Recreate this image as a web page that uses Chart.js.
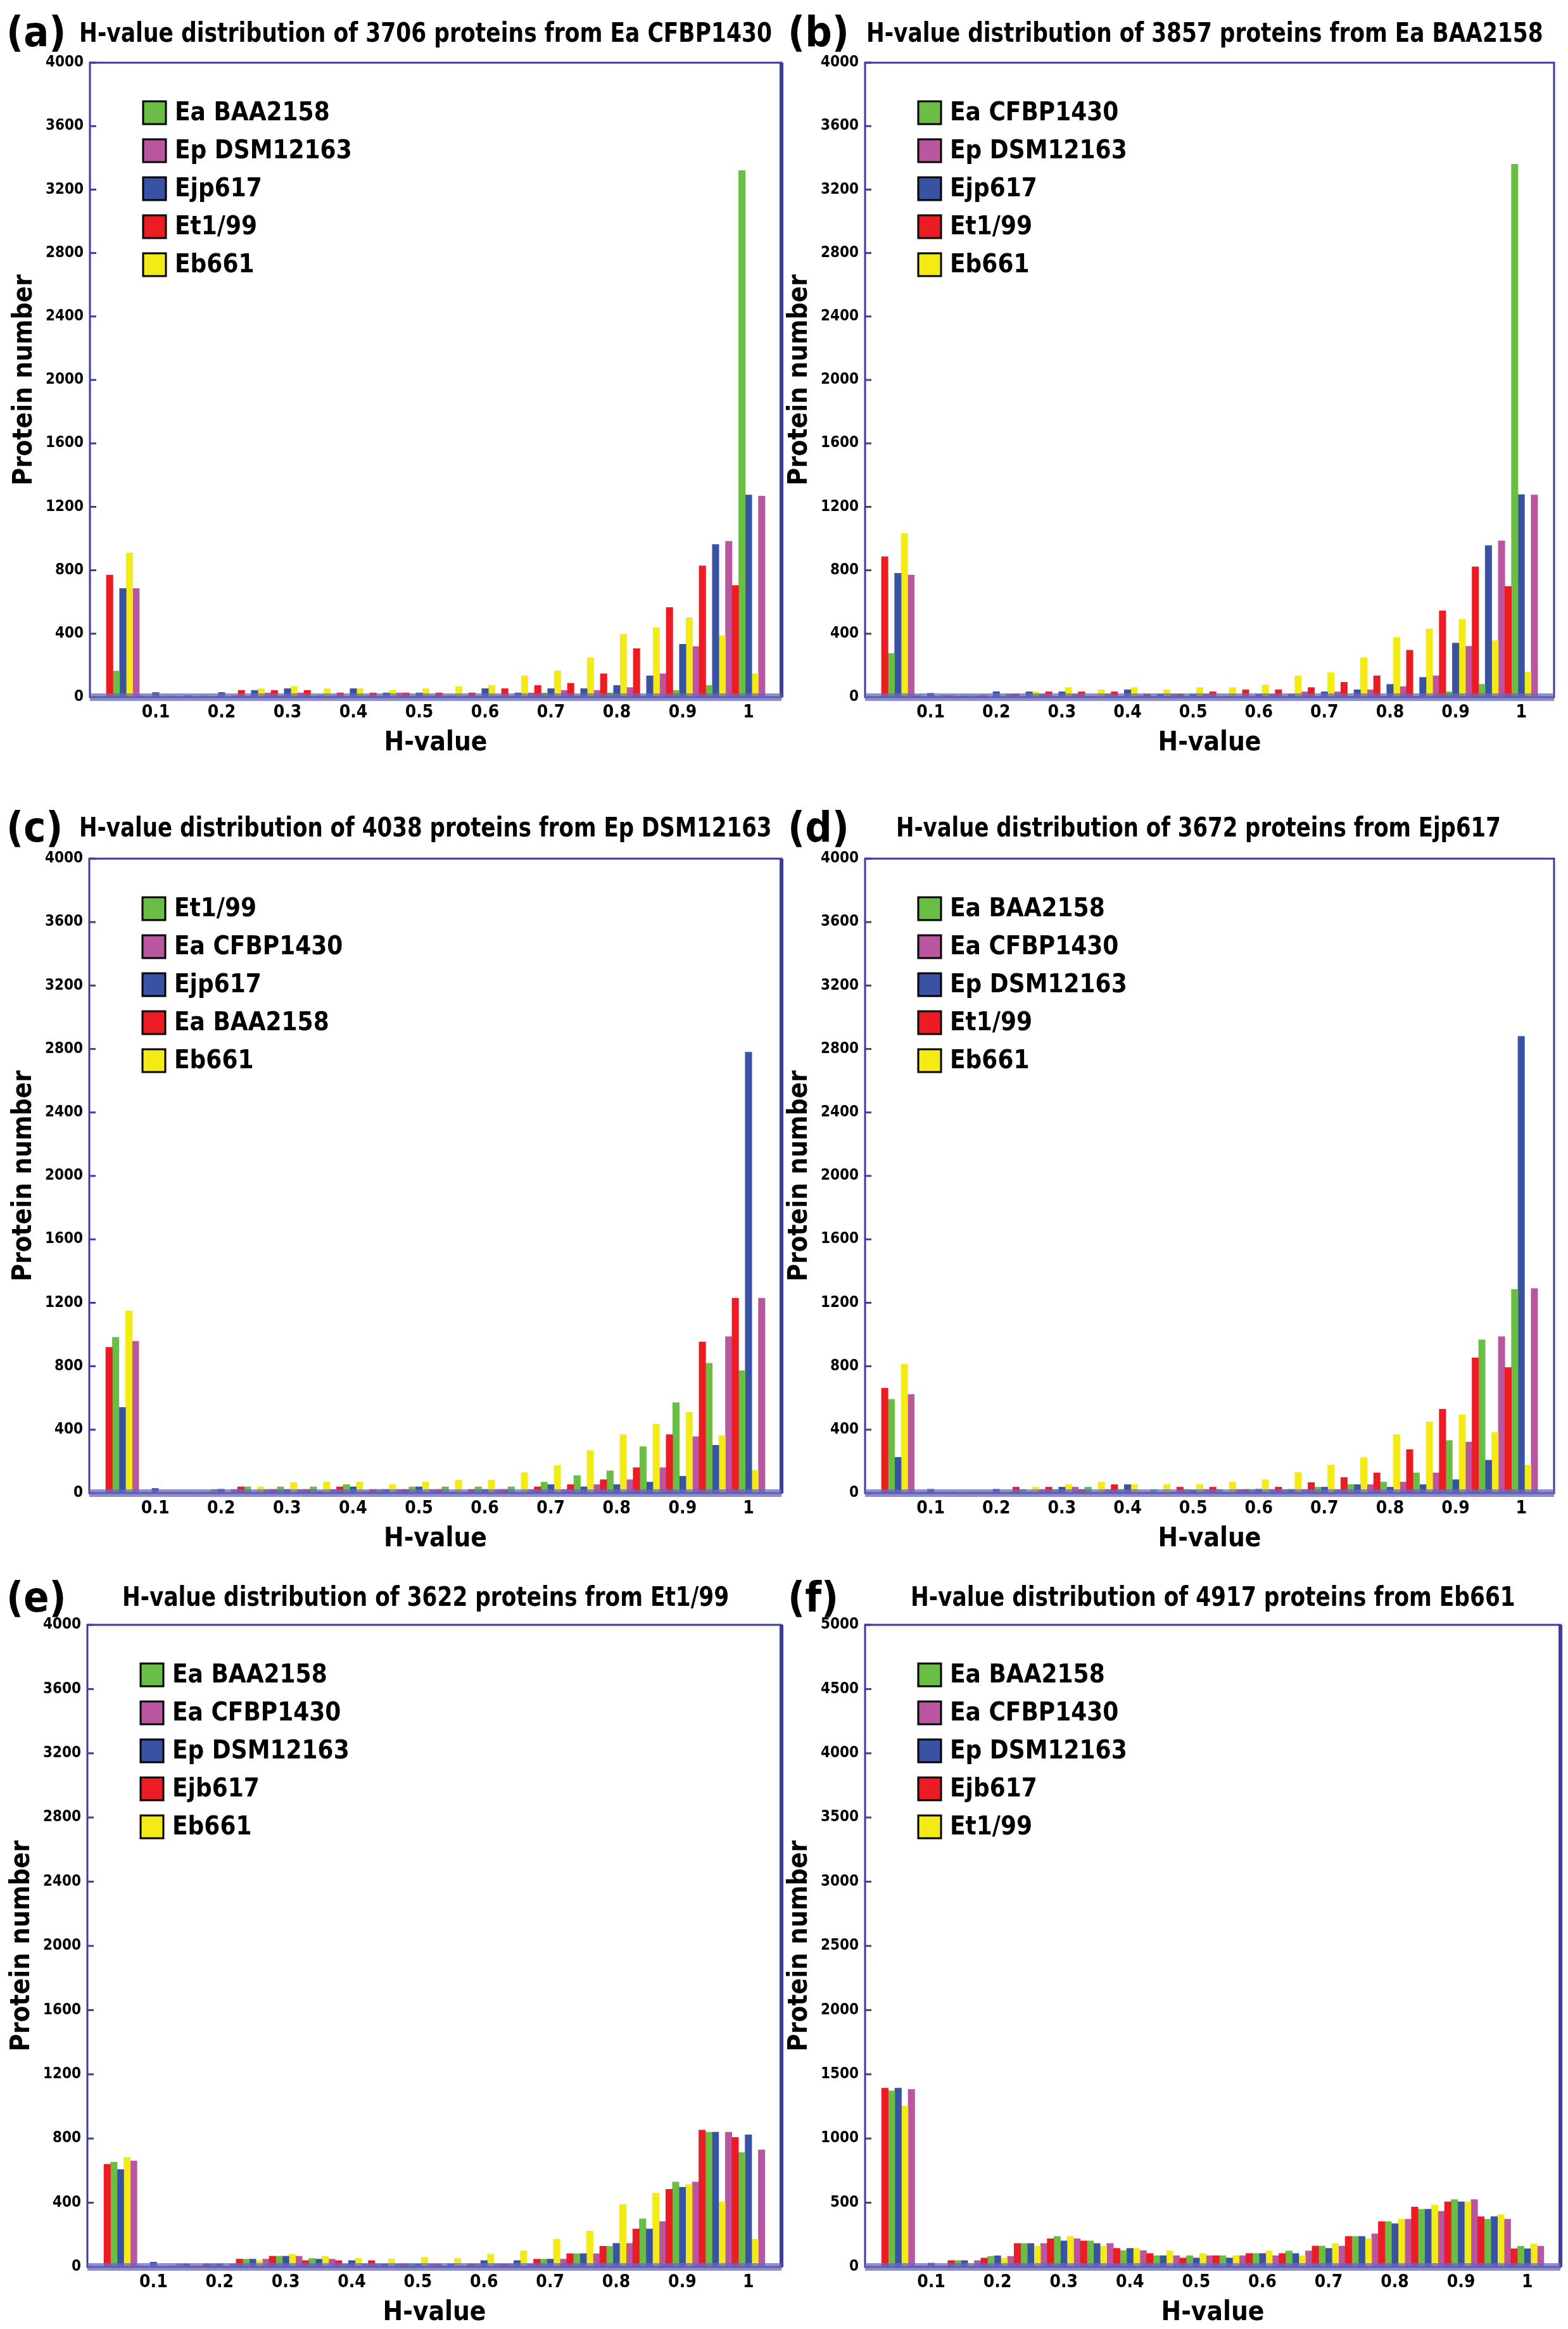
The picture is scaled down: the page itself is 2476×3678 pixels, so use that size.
<!DOCTYPE html>
<html>
<head>
<meta charset="utf-8">
<title>H-value distribution</title>
<script src="https://cdn.jsdelivr.net/npm/chart.js@4.4.1/dist/chart.umd.min.js"></script>
<style>
  html, body { margin: 0; padding: 0; background: #fff; }
  body { width: 2476px; height: 3678px; position: relative; overflow: hidden; }
  canvas { position: absolute; }
  .tag, .ttl { position: absolute; white-space: nowrap; color: #000;
    font-family: "Liberation Sans Narrow", "DejaVu Sans Condensed", "Arial Narrow", sans-serif; font-weight: bold; }
  .tag { font-size: 66px; line-height: 66px; }
  .ttl { font-size: 42px; line-height: 42px; transform-origin: 0 50%; }
</style>
</head>
<body>
<script>
// --- data: bin centres (H-value) and protein counts per bin ---
const hBins = [0.05, 0.10, 0.15, 0.20, 0.25, 0.30, 0.35, 0.40, 0.45, 0.50,
               0.55, 0.60, 0.65, 0.70, 0.75, 0.80, 0.85, 0.90, 0.95, 1.00];
const xTickValues = [0.1, 0.2, 0.3, 0.4, 0.5, 0.6, 0.7, 0.8, 0.9, 1.0];

// (a) Ea CFBP1430
const aRed    = [770, 8, 5, 5, 43, 43, 43, 27, 27, 27, 27, 27, 54, 74, 88, 148, 306, 566, 828, 704];
const aGreen  = [165, 3, 3, 5, 5, 9, 5, 5, 9, 9, 9, 9, 9, 27, 9, 27, 9, 43, 74, 3320];
const aBlue   = [685, 30, 10, 30, 43, 54, 10, 54, 27, 27, 9, 54, 27, 54, 54, 74, 135, 334, 963, 1275];
const aYellow = [910, 5, 3, 5, 54, 67, 54, 54, 43, 54, 67, 74, 135, 166, 249, 397, 440, 502, 388, 148];
const aPink   = [685, 8, 8, 10, 27, 27, 9, 9, 27, 9, 9, 9, 27, 43, 43, 61, 148, 320, 983, 1268];
const aLegend = ["Ea BAA2158", "Ep DSM12163", "Ejp617", "Et1/99", "Eb661"];

// (b) Ea BAA2158
const bRed    = [886, 10, 10, 10, 20, 34, 34, 34, 20, 20, 34, 47, 47, 61, 94, 135, 296, 545, 822, 698];
const bGreen  = [276, 5, 5, 3, 5, 5, 5, 5, 5, 5, 5, 5, 5, 5, 5, 5, 5, 34, 81, 3360];
const bBlue   = [781, 25, 7, 35, 34, 34, 7, 47, 20, 20, 7, 20, 20, 34, 47, 81, 125, 341, 956, 1277];
const bYellow = [1033, 5, 8, 10, 34, 61, 47, 61, 47, 61, 61, 77, 135, 155, 249, 377, 431, 492, 357, 159];
const bPink   = [770, 10, 8, 20, 20, 20, 20, 10, 20, 20, 7, 20, 34, 34, 47, 67, 135, 321, 986, 1275];
const bLegend = ["Ea CFBP1430", "Ep DSM12163", "Ejp617", "Et1/99", "Eb661"];

// (c) Ep DSM12163
const cRed    = [920, 5, 7, 7, 40, 24, 24, 40, 24, 24, 24, 24, 24, 40, 54, 85, 161, 369, 954, 1229];
const cGreen  = [983, 7, 7, 24, 40, 40, 40, 54, 24, 40, 40, 40, 40, 70, 111, 141, 293, 571, 819, 772];
const cBlue   = [541, 30, 5, 25, 5, 24, 10, 40, 24, 40, 5, 24, 5, 54, 40, 54, 70, 107, 302, 2780];
const cYellow = [1148, 7, 5, 5, 40, 67, 70, 70, 54, 70, 83, 83, 130, 175, 269, 369, 436, 510, 363, 145];
const cPink   = [958, 5, 5, 24, 24, 24, 24, 10, 24, 24, 5, 24, 24, 24, 54, 85, 161, 356, 987, 1229];
const cLegend = ["Et1/99", "Ea CFBP1430", "Ejp617", "Ea BAA2158", "Eb661"];

// (d) Ejp617
const dRed    = [662, 3, 7, 7, 38, 38, 24, 54, 7, 38, 38, 24, 38, 67, 99, 128, 275, 530, 853, 792];
const dGreen  = [591, 7, 3, 7, 24, 24, 38, 24, 24, 24, 24, 24, 24, 38, 54, 70, 128, 332, 967, 1285];
const dBlue   = [226, 25, 3, 25, 7, 38, 5, 54, 5, 20, 5, 25, 24, 38, 54, 38, 54, 85, 208, 2880];
const dYellow = [813, 5, 7, 7, 38, 54, 70, 54, 54, 54, 70, 85, 130, 177, 224, 369, 450, 494, 383, 177];
const dPink   = [622, 7, 7, 7, 24, 38, 24, 5, 7, 24, 24, 24, 24, 24, 54, 70, 128, 322, 987, 1290];
const dLegend = ["Ea BAA2158", "Ea CFBP1430", "Ep DSM12163", "Et1/99", "Eb661"];

// (e) Et1/99
const eRed    = [640, 7, 7, 20, 49, 67, 40, 40, 40, 20, 20, 20, 20, 49, 83, 129, 237, 484, 853, 807];
const eGreen  = [653, 3, 20, 20, 49, 67, 53, 20, 20, 20, 7, 20, 20, 49, 83, 129, 300, 529, 840, 713];
const eBlue   = [607, 30, 20, 20, 49, 67, 49, 40, 20, 20, 20, 40, 40, 49, 83, 147, 237, 497, 840, 823];
const eYellow = [683, 3, 7, 7, 40, 80, 67, 53, 49, 60, 53, 80, 100, 173, 223, 389, 460, 513, 407, 173];
const ePink   = [660, 3, 7, 20, 49, 67, 49, 20, 20, 20, 7, 20, 20, 49, 83, 147, 283, 529, 840, 729];
const eLegend = ["Ea BAA2158", "Ea CFBP1430", "Ep DSM12163", "Ejb617", "Eb661"];

// (f) Eb661
const fRed    = [1392, 8, 50, 70, 183, 220, 203, 145, 105, 70, 88, 105, 105, 163, 238, 353, 467, 508, 392, 142];
const fGreen  = [1372, 8, 50, 83, 183, 238, 203, 128, 88, 88, 88, 105, 125, 163, 238, 353, 450, 525, 372, 162];
const fBlue   = [1392, 30, 50, 87, 183, 203, 183, 145, 88, 70, 70, 105, 105, 145, 238, 337, 450, 508, 392, 142];
const fYellow = [1253, 8, 30, 70, 163, 238, 163, 145, 125, 105, 88, 125, 88, 183, 220, 372, 483, 508, 408, 180];
const fPink   = [1383, 8, 50, 83, 183, 220, 183, 128, 88, 88, 88, 88, 125, 163, 258, 372, 433, 525, 372, 162];
const fLegend = ["Ea BAA2158", "Ea CFBP1430", "Ep DSM12163", "Ejb617", "Et1/99"];

// --- look ---
const FONT = '"Liberation Sans Narrow", "DejaVu Sans Condensed", "Arial Narrow", sans-serif';
const COL = { red: "#ec1c24", green: "#6abd45", blue: "#3953a4", yellow: "#f4eb16", pink: "#ba55a0" };
const FRAME = "#3d3d9c";

const panels = [
  { tag: "(a)", title: "H-value distribution of 3706 proteins from Ea CFBP1430", legend: aLegend,
    series: [aRed, aGreen, aBlue, aYellow, aPink], yMax: 4000, yStep: 400,
    plot: { l: 142, t: 99, r: 1234, b: 1101 }, tagPos: [10, 18], ttl: [125, 52, 1094], heavyRight: true },
  { tag: "(b)", title: "H-value distribution of 3857 proteins from Ea BAA2158", legend: bLegend,
    series: [bRed, bGreen, bBlue, bYellow, bPink], yMax: 4000, yStep: 400,
    plot: { l: 1366, t: 99, r: 2454, b: 1101 }, tagPos: [1244, 18], ttl: [1368, 52, 1068], heavyRight: false },
  { tag: "(c)", title: "H-value distribution of 4038 proteins from Ep DSM12163", legend: cLegend,
    series: [cRed, cGreen, cBlue, cYellow, cPink], yMax: 4000, yStep: 400,
    plot: { l: 141, t: 1356, r: 1234, b: 2358 }, tagPos: [10, 1274], ttl: [125, 1307, 1094], heavyRight: true },
  { tag: "(d)", title: "H-value distribution of 3672 proteins from Ejp617", legend: dLegend,
    series: [dRed, dGreen, dBlue, dYellow, dPink], yMax: 4000, yStep: 400,
    plot: { l: 1366, t: 1356, r: 2454, b: 2358 }, tagPos: [1244, 1274], ttl: [1415, 1307, 955], heavyRight: false },
  { tag: "(e)", title: "H-value distribution of 3622 proteins from Et1/99", legend: eLegend,
    series: [eRed, eGreen, eBlue, eYellow, ePink], yMax: 4000, yStep: 400,
    plot: { l: 138, t: 2566, r: 1234, b: 3580 }, tagPos: [10, 2490], ttl: [193, 2522, 958], heavyRight: true },
  { tag: "(f)", title: "H-value distribution of 4917 proteins from Eb661", legend: fLegend,
    series: [fRed, fGreen, fBlue, fYellow, fPink], yMax: 5000, yStep: 500,
    plot: { l: 1366, t: 2566, r: 2464, b: 3580 }, tagPos: [1244, 2490], ttl: [1438, 2522, 955], heavyRight: true },
];

// bars sit red, green, blue, yellow, pink inside each bin; legend lists green, pink, blue, red, yellow
const barColours = [COL.red, COL.green, COL.blue, COL.yellow, COL.pink];
const legendIndex = [3, 0, 2, 4, 1];   // which legend name belongs to each bar colour
const legendRank = [3, 0, 2, 4, 1];    // row of that entry in the legend box

// frame, inner y ticks and the thick base line
const framePlugin = {
  id: "frame",
  afterDraw(chart, args, opts) {
    const { ctx, chartArea: a } = chart;
    const ys = chart.scales.y;
    ctx.save();
    ctx.strokeStyle = FRAME;
    ctx.lineWidth = 3;
    ys.ticks.forEach(t => {
      const y = ys.getPixelForValue(t.value);
      ctx.beginPath(); ctx.moveTo(a.left, y); ctx.lineTo(a.left + 10, y); ctx.stroke();
    });
    ctx.strokeRect(a.left, a.top, a.right - a.left, a.bottom - a.top);
    if (opts.heavyRight) {
      ctx.lineWidth = 6;
      ctx.beginPath(); ctx.moveTo(a.right, a.top); ctx.lineTo(a.right, a.bottom); ctx.stroke();
    }
    ctx.fillStyle = "rgba(105,105,190,0.75)";
    ctx.fillRect(a.left, a.bottom - 6, a.right - a.left, 12);
    ctx.restore();
  }
};

// legend drawn inside the plot, top left
const boxLegend = {
  id: "boxLegend",
  afterDatasetsDraw(chart) {
    const { ctx, chartArea: a } = chart;
    const items = chart.data.datasets.map(d => d).sort((p, q) => p.rank - q.rank);
    ctx.save();
    ctx.font = "bold 40px " + FONT;
    ctx.textBaseline = "middle";
    items.forEach((d, i) => {
      const cy = a.top + 79 + i * 60;
      const x = a.left + 84;
      ctx.fillStyle = d.backgroundColor;
      ctx.fillRect(x, cy - 18, 36, 36);
      ctx.lineWidth = 3;
      ctx.strokeStyle = "#000";
      ctx.strokeRect(x, cy - 18, 36, 36);
      ctx.fillStyle = "#000";
      ctx.fillText(d.label, x + 50, cy + 2);
    });
    ctx.restore();
  }
};

const PAD_L = 132, PAD_T = 30, PAD_R = 16, PAD_B = 104;

panels.forEach(p => {
  const w = p.plot.r - p.plot.l + PAD_L + PAD_R;
  const h = p.plot.b - p.plot.t + PAD_T + PAD_B;
  const cv = document.createElement("canvas");
  cv.width = w; cv.height = h;
  cv.style.left = (p.plot.l - PAD_L) + "px";
  cv.style.top = (p.plot.t - PAD_T) + "px";
  cv.style.width = w + "px"; cv.style.height = h + "px";
  document.body.appendChild(cv);

  const tag = document.createElement("div");
  tag.className = "tag"; tag.textContent = p.tag;
  tag.style.left = p.tagPos[0] + "px"; tag.style.top = p.tagPos[1] + "px";
  document.body.appendChild(tag);

  const ttl = document.createElement("div");
  ttl.className = "ttl"; ttl.textContent = p.title;
  ttl.style.left = p.ttl[0] + "px"; ttl.style.top = (p.ttl[1] - 21) + "px";
  document.body.appendChild(ttl);
  ttl.style.transform = "scaleX(" + (p.ttl[2] / ttl.offsetWidth).toFixed(3) + ")";

  const datasets = p.series.map((vals, k) => ({
    label: p.legend[legendIndex[k]],
    rank: legendRank[k],
    data: hBins.map((hv, i) => ({ x: hv, y: vals[i] })),
    backgroundColor: barColours[k],
    borderWidth: 0,
    categoryPercentage: 1.0,
    barPercentage: 1.0
  }));

  new Chart(cv, {
    type: "bar",
    data: { datasets },
    plugins: [framePlugin, boxLegend],
    options: {
      responsive: false,
      animation: false,
      devicePixelRatio: 1,
      layout: { padding: { left: 0, top: PAD_T, right: PAD_R, bottom: 0 } },
      plugins: {
        legend: { display: false },
        tooltip: { enabled: false },
        frame: { heavyRight: p.heavyRight }
      },
      scales: {
        x: {
          type: "linear",
          min: 0,
          max: 1.05,
          offset: false,
          grid: { display: false, drawTicks: false },
          border: { display: false },
          afterBuildTicks: s => { s.ticks = xTickValues.map(v => ({ value: v })); },
          afterFit: s => { s.height = PAD_B; },
          ticks: {
            autoSkip: false, maxRotation: 0, padding: 8, color: "#000",
            font: { family: FONT, size: 28, weight: "bold" },
            callback: v => (v === 1 ? "1" : v.toFixed(1))
          },
          title: {
            display: true, text: "H-value", color: "#000", padding: { top: 0, bottom: 6 },
            font: { family: FONT, size: 42, weight: "bold" }
          }
        },
        y: {
          min: 0,
          max: p.yMax,
          grid: { display: false, drawTicks: false },
          border: { display: false },
          afterFit: s => { s.width = PAD_L; },
          ticks: {
            stepSize: p.yStep, padding: 10, color: "#000",
            font: { family: FONT, size: 24, weight: "bold" },
            callback: v => String(v)
          },
          title: {
            display: true, text: "Protein number", color: "#000", padding: { top: 4, bottom: 0 },
            font: { family: FONT, size: 42, weight: "bold" }
          }
        }
      }
    }
  });
});
</script>
</body>
</html>
